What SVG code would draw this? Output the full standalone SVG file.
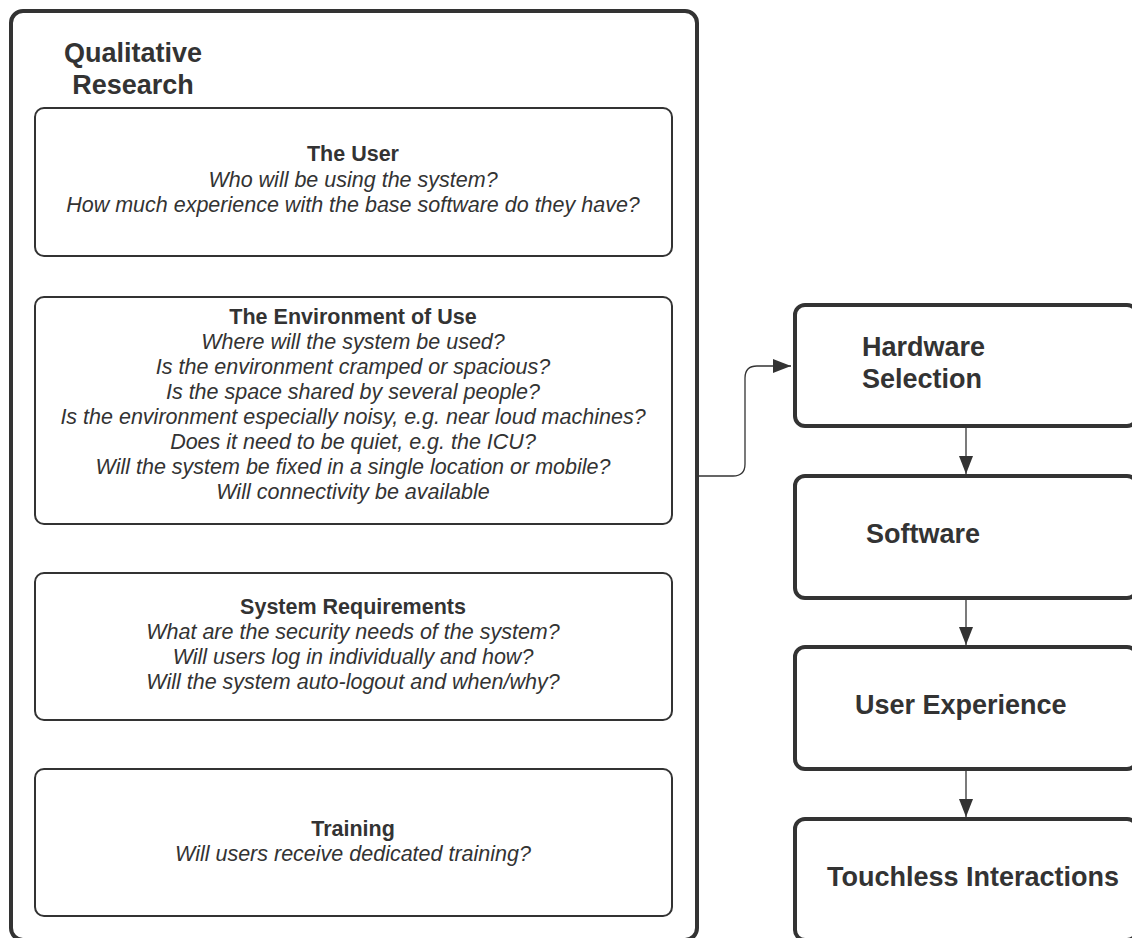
<svg xmlns="http://www.w3.org/2000/svg" width="1132" height="938" viewBox="0 0 1132 938">
<defs>
<style>
.outer{fill:#fff;stroke:#333;stroke-width:4}
.inner{fill:#fff;stroke:#333;stroke-width:2}
.step{fill:#fff;stroke:#333;stroke-width:4}
.big{font-family:"Liberation Sans",Arial,sans-serif;font-size:27px;font-weight:bold;fill:#333}
.t{font-family:"Liberation Sans",Arial,sans-serif;font-size:21.5px;font-weight:bold;fill:#333;text-anchor:middle}
.q{font-family:"Liberation Sans",Arial,sans-serif;font-size:21.5px;font-style:italic;fill:#333;text-anchor:middle}
.conn{fill:none;stroke:#333;stroke-width:1.3}
</style>
<marker id="arr" markerWidth="18" markerHeight="14" refX="18" refY="7" orient="auto" markerUnits="userSpaceOnUse">
<path d="M0,0 L18,7 L0,14 Z" fill="#333"/>
</marker>
</defs>
<rect width="1132" height="938" fill="#fff"/>
<g id="qualitative-research">
<rect class="outer" x="11" y="11" width="686" height="929" rx="12"/>
<text class="big" text-anchor="middle"><tspan x="133" y="62">Qualitative</tspan><tspan x="133" y="94">Research</tspan></text>
</g>
<g id="the-user">
<rect class="inner" x="35" y="108" width="637" height="148" rx="9"/>
<text class="t" x="353" y="161">The User</text>
<text class="q" x="353" y="187">Who will be using the system?</text>
<text class="q" x="353" y="212">How much experience with the base software do they have?</text>
</g>
<g id="environment">
<rect class="inner" x="35" y="297" width="637" height="227" rx="9"/>
<text class="t" x="353" y="324">The Environment of Use</text>
<text class="q" x="353" y="349">Where will the system be used?</text>
<text class="q" x="353" y="374">Is the environment cramped or spacious?</text>
<text class="q" x="353" y="399">Is the space shared by several people?</text>
<text class="q" x="353" y="424">Is the environment especially noisy, e.g. near loud machines?</text>
<text class="q" x="353" y="449">Does it need to be quiet, e.g. the ICU?</text>
<text class="q" x="353" y="474">Will the system be fixed in a single location or mobile?</text>
<text class="q" x="353" y="499">Will connectivity be available</text>
</g>
<g id="system-requirements">
<rect class="inner" x="35" y="573" width="637" height="147" rx="9"/>
<text class="t" x="353" y="614">System Requirements</text>
<text class="q" x="353" y="639">What are the security needs of the system?</text>
<text class="q" x="353" y="664">Will users log in individually and how?</text>
<text class="q" x="353" y="689">Will the system auto-logout and when/why?</text>
</g>
<g id="training">
<rect class="inner" x="35" y="769" width="637" height="147" rx="9"/>
<text class="t" x="353" y="836">Training</text>
<text class="q" x="353" y="861">Will users receive dedicated training?</text>
</g>
<g id="hardware-selection">
<rect class="step" x="795" y="305" width="342" height="121" rx="10"/>
<text class="big"><tspan x="862" y="356">Hardware</tspan><tspan x="862" y="388">Selection</tspan></text>
</g>
<g id="software">
<rect class="step" x="795" y="476" width="342" height="122" rx="10"/>
<text class="big" x="866" y="543">Software</text>
</g>
<g id="user-experience">
<rect class="step" x="795" y="647" width="342" height="122" rx="10"/>
<text class="big" x="855" y="714">User Experience</text>
</g>
<g id="touchless-interactions">
<rect class="step" x="795" y="819" width="342" height="121" rx="10"/>
<text class="big" x="827" y="886">Touchless Interactions</text>
</g>
<g id="connectors">
<path class="conn" d="M697,476 H733 Q745,476 745,464 V378 Q745,366 757,366 H791" marker-end="url(#arr)"/>
<path class="conn" d="M966,427 V474" marker-end="url(#arr)"/>
<path class="conn" d="M966,599 V645" marker-end="url(#arr)"/>
<path class="conn" d="M966,770 V817" marker-end="url(#arr)"/>
</g>
</svg>
